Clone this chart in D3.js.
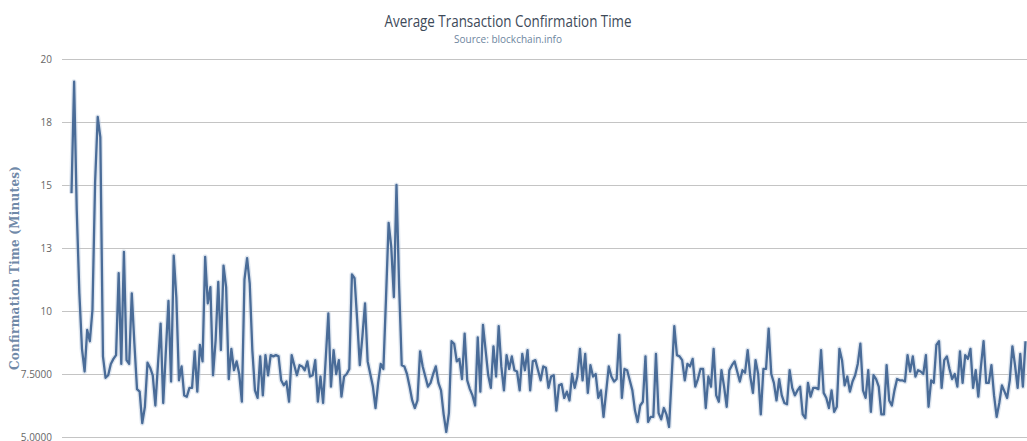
<!DOCTYPE html>
<html>
<head>
<meta charset="utf-8">
<script src="https://cdn.jsdelivr.net/npm/d3@7"></script>
<style>
  body { margin: 0; background: #fff; }
  .grid line { stroke: #c4c4c4; stroke-width: 1; }
  .grid path { display: none; }
  .y.axis text { fill: #666; font-family: "Open Sans", "DejaVu Sans", sans-serif; font-size: 10px; }
  .y.axis path, .y.axis line { display: none; }
</style>
</head>
<body>
<div id="chart"></div>
<script>
// chart text
var chartTitle = "Average Transaction Confirmation Time";
var chartSubtitle = "Source: blockchain.info";
var yTitle = "Confirmation Time (Minutes)";

// y ticks and the labels shown next to them
var yTicks = [5, 7.5, 10, 12.5, 15, 17.5, 20];
var yTickLabels = ["5.0000", "7.5000", "10", "13", "15", "18", "20"];

// confirmation time in minutes, one value per day
var early = [14.67, 19.1, 14.0, 10.7, 8.5, 7.6, 9.25, 8.8, 10.05, 15.1, 17.7, 16.9, 8.2, 7.35, 7.45, 7.9,
  8.1, 8.25, 11.5, 7.9, 12.35, 8.05, 7.9, 10.7, 8.7, 6.9, 6.8, 5.55, 6.2, 7.95, 7.75, 7.45, 6.25, 7.9,
  9.5, 6.35, 8.4, 10.4, 7.2, 12.2, 10.55, 7.25, 7.8, 6.65, 6.6, 6.95, 6.95, 8.4];
var middle = [6.8, 8.65, 8.0, 12.15, 10.3, 10.95, 7.45, 8.85, 11.15, 8.45, 11.8, 10.95, 7.3, 8.5, 7.65,
  8.0, 7.5, 6.4, 11.25, 12.1, 11.1, 8.45, 6.85, 6.55, 8.2, 6.65, 8.25, 7.45, 8.25, 8.2, 8.25, 8.2, 7.25,
  7.05, 7.2, 6.4, 8.25, 7.85, 7.45, 7.85, 7.8, 7.65, 8.0, 7.4, 7.45, 8.05, 6.4, 7.4, 6.35,
  8.1, 9.9, 7.0, 8.45, 7.5, 8.05, 6.6, 7.4, 7.5, 7.7, 11.45, 11.3, 9.65, 7.85, 9.0, 10.3, 8.0, 7.5, 7.0,
  6.15, 7.15, 7.9, 7.7, 10.5, 13.5, 12.55, 10.55, 15.0, 11.0, 7.85, 7.8, 7.5, 7.0, 6.45, 6.15, 6.45,
  8.4, 7.8, 7.4, 7.0, 7.15, 7.5, 7.8, 7.15, 6.85, 5.9, 5.2, 5.95];
var late = [8.8, 8.7, 8.0, 8.1, 7.3, 9.1, 7.25, 6.9, 6.65, 6.25, 8.95, 6.8, 9.45, 8.45, 7.45, 6.95, 8.6,
  7.4, 9.4, 7.8, 6.85, 8.25, 7.7, 8.2, 7.65, 7.6, 6.85, 8.3, 7.65, 8.45, 6.85, 8.0, 8.05, 7.65, 7.25,
  7.8, 7.75, 6.95, 7.4, 7.45, 6.05, 7.05, 7.1, 6.55, 6.8, 6.45, 7.5, 6.95, 7.4, 8.5, 7.25, 8.3, 6.75,
  7.85, 7.4, 7.5, 6.55, 6.85, 5.8, 6.8, 7.8, 7.4, 7.2, 7.3, 9.05, 6.55, 7.7, 7.65, 7.25, 6.85, 6.05,
  5.6, 6.25, 6.4, 8.2, 5.6, 5.8, 5.8, 8.3, 5.95, 5.7, 6.15, 5.9, 5.4, 7.4, 9.4, 8.25, 8.2, 8.05, 7.25,
  7.9, 7.8, 8.1, 7.0, 7.3, 7.7, 7.7, 6.15, 7.4, 7.0, 8.5, 6.65, 6.4, 7.65, 7.0, 6.2, 7.65, 7.85, 8.0,
  7.6, 7.2, 7.65, 7.55, 8.45, 7.4, 6.75, 8.05, 7.5, 5.9, 7.7, 7.7, 9.3, 7.5, 7.15, 6.45, 7.3, 6.65,
  6.35, 6.3, 7.65, 6.95, 6.65, 6.85, 7.0, 5.9, 5.75, 7.15, 6.6, 6.95, 6.95, 6.9, 8.45, 6.75, 6.55,
  6.15, 6.85, 6.0, 6.2, 8.5, 8.05, 7.05, 7.4, 6.8, 7.2, 7.45, 7.9, 8.7, 6.85, 6.55, 7.65, 6.0, 7.45,
  7.3, 7.0, 5.9, 5.9, 7.85, 6.45, 6.25, 6.85, 7.3, 7.25, 7.25, 7.2, 8.25, 7.6, 8.2, 7.4, 7.65, 7.6,
  7.5, 8.25, 6.2, 7.25, 7.15, 8.65, 8.8, 6.95, 8.05, 8.2, 7.7, 7.3, 7.5, 7.0, 8.4, 7.15, 8.25, 8.1,
  8.5, 6.95, 7.65, 6.6, 7.8, 8.8, 7.15, 7.15, 7.85, 6.65, 5.8, 6.35, 7.05, 6.8, 6.55, 7.25, 8.6, 7.85,
  6.95, 8.3, 7.0, 8.8];

var values = early.concat(middle, late);

var width = 1027, height = 441;
var margin = {top: 59, right: 2, bottom: 4, left: 62};

var svg = d3.select("#chart").append("svg")
    .attr("width", width)
    .attr("height", height);

// scales: x by day index, y in minutes
var xScale = d3.scaleLinear()
    .domain([0, values.length - 1])
    .range([71.5, 1025.5]);

var yScale = d3.scaleLinear()
    .domain([5, 20])
    .range([height - margin.bottom, margin.top]);

// horizontal grid lines
svg.append("g")
    .attr("class", "grid")
    .attr("transform", "translate(" + margin.left + ",0)")
    .call(d3.axisRight(yScale).tickValues(yTicks).tickSize(width - margin.left).tickFormat(""));

// y axis labels
svg.append("g")
    .attr("class", "y axis")
    .attr("transform", "translate(" + (margin.left - 7) + ",0)")
    .call(d3.axisLeft(yScale).tickValues(yTicks).tickSize(0)
      .tickFormat(function(d, i) { return yTickLabels[i]; }));

var line = d3.line()
    .x(function(d, i) { return xScale(i); })
    .y(function(d) { return yScale(d); });

// soft shadow under the line
svg.append("path")
    .datum(values)
    .attr("fill", "none")
    .attr("stroke", "#b9c8dc")
    .attr("stroke-width", 5)
    .attr("stroke-opacity", 0.45)
    .attr("stroke-linejoin", "round")
    .attr("d", line);

svg.append("path")
    .datum(values)
    .attr("fill", "none")
    .attr("stroke", "#4a6c98")
    .attr("stroke-width", 2.3)
    .attr("stroke-linejoin", "round")
    .attr("d", line);

// titles (the original uses a narrow face, so squeeze to its width)
svg.append("text")
    .attr("x", 508)
    .attr("y", 27)
    .attr("text-anchor", "middle")
    .attr("textLength", 247)
    .attr("lengthAdjust", "spacingAndGlyphs")
    .style("font-family", "'Open Sans', 'DejaVu Sans', sans-serif")
    .style("font-size", "16px")
    .style("fill", "#3d4a59")
    .text(chartTitle);

svg.append("text")
    .attr("x", 508)
    .attr("y", 43)
    .attr("text-anchor", "middle")
    .attr("textLength", 108)
    .attr("lengthAdjust", "spacingAndGlyphs")
    .style("font-family", "'Open Sans', 'DejaVu Sans', sans-serif")
    .style("font-size", "11px")
    .style("fill", "#6e86a0")
    .text(chartSubtitle);

svg.append("text")
    .attr("transform", "translate(19," + 268 + ") rotate(-90)")
    .attr("text-anchor", "middle")
    .attr("textLength", 204)
    .attr("lengthAdjust", "spacing")
    .style("font-family", "'DejaVu Serif', serif")
    .style("font-weight", "bold")
    .style("font-size", "12px")
    .style("fill", "#7089a8")
    .text(yTitle);
</script>
</body>
</html>
